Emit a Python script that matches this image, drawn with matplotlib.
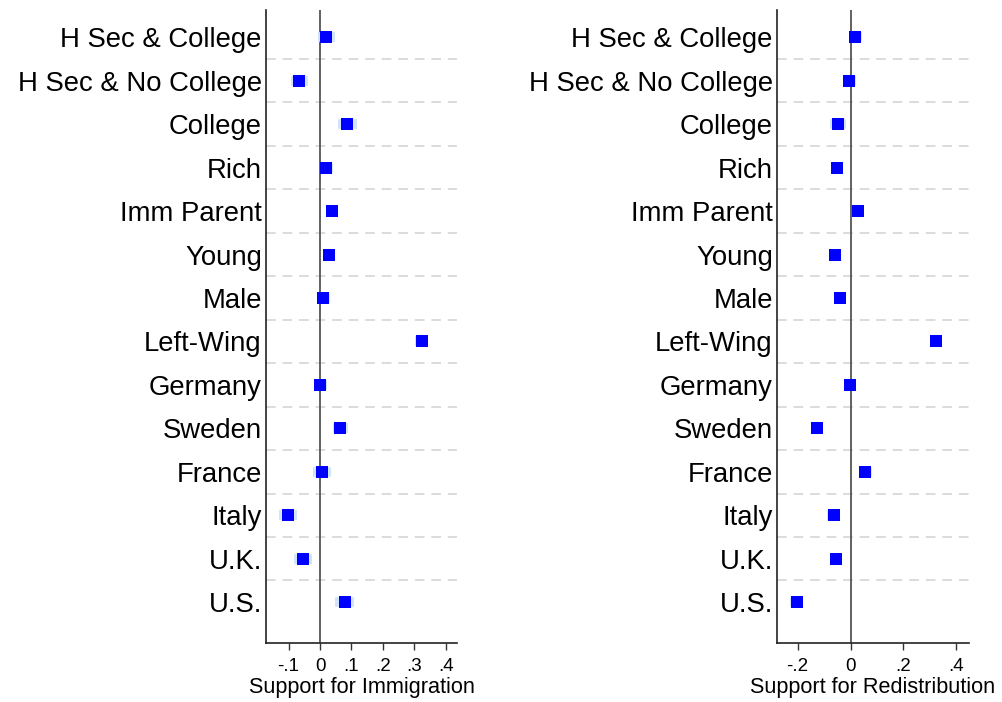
import numpy as np
import matplotlib
matplotlib.use("Agg")
import matplotlib.pyplot as plt

plt.rcParams['font.family'] = ['Liberation Sans', 'DejaVu Sans']

categories = ["H Sec & College", "H Sec & No College", "College", "Rich", "Imm Parent",
              "Young", "Male", "Left-Wing", "Germany", "Sweden", "France", "Italy",
              "U.K.", "U.S."]

imm_coef = [0.020, -0.066, 0.087, 0.020, 0.039, 0.030, 0.011, 0.324, 0.001, 0.065,
            0.007, -0.101, -0.053, 0.078]
imm_ci = [0.027, 0.027, 0.031, 0.020, 0.019, 0.019, 0.020, 0.021, 0.021, 0.023,
          0.029, 0.029, 0.029, 0.029]

red_coef = [0.018, -0.005, -0.047, -0.051, 0.029, -0.058, -0.040, 0.322, -0.002,
            -0.127, 0.056, -0.063, -0.055, -0.203]
red_ci = [0.024, 0.024, 0.030, 0.020, 0.020, 0.020, 0.020, 0.020, 0.022, 0.022,
          0.025, 0.025, 0.023, 0.025]

imm_ticks = [-0.1, 0, 0.1, 0.2, 0.3, 0.4]
imm_ticklabels = ["-.1", "0", ".1", ".2", ".3", ".4"]
red_ticks = [-0.2, 0, 0.2, 0.4]
red_ticklabels = ["-.2", "0", ".2", ".4"]

fig = plt.figure(figsize=(10.02, 7.02), dpi=100)
ax1 = fig.add_axes([266/1002, 1-643/702, 191/1002, 633/702])
ax2 = fig.add_axes([777/1002, 1-643/702, 192/1002, 633/702])

panels = [
    (ax1, imm_coef, imm_ci, imm_ticks, imm_ticklabels, (-0.172, 0.436), "Support for Immigration"),
    (ax2, red_coef, red_ci, red_ticks, red_ticklabels, (-0.278, 0.448), "Support for Redistribution"),
]

y = np.arange(len(categories))
for ax, coef, ci, ticks, tlabels, xlim, xlabel in panels:
    coef = np.array(coef)
    ci = np.array(ci)
    # dashed separators between rows
    for k in range(len(categories) - 1):
        ax.axhline(k + 0.5, color='#dcdcdc', lw=1.4, ls=(0, (5, 3.5)), zorder=0)
    ax.axvline(0, color='#555555', lw=1.3, zorder=1)
    ax.hlines(y, coef - ci, coef + ci, color='#d2e4fb', lw=7, zorder=2)
    ax.plot(coef, y, ls='none', marker='s', ms=8, color='#0000ff', mew=0, zorder=3)
    ax.set_xlim(*xlim)
    ax.set_ylim(13.94, -0.628)
    ax.set_yticks(y)
    ax.set_yticklabels(categories, fontsize=19.8)
    ax.tick_params(axis='y', length=0, pad=3)
    ax.set_xticks(ticks)
    ax.set_xticklabels(tlabels, fontsize=13.5)
    ax.tick_params(axis='x', length=5, width=1, pad=6, color='#333333')
    ax.set_xlabel(xlabel, fontsize=15.6, labelpad=1)
    for s in ['top', 'right']:
        ax.spines[s].set_visible(False)
    for s in ['left', 'bottom']:
        ax.spines[s].set_color('#222222')
        ax.spines[s].set_linewidth(1.2)

fig.savefig("out.png", dpi=100)
